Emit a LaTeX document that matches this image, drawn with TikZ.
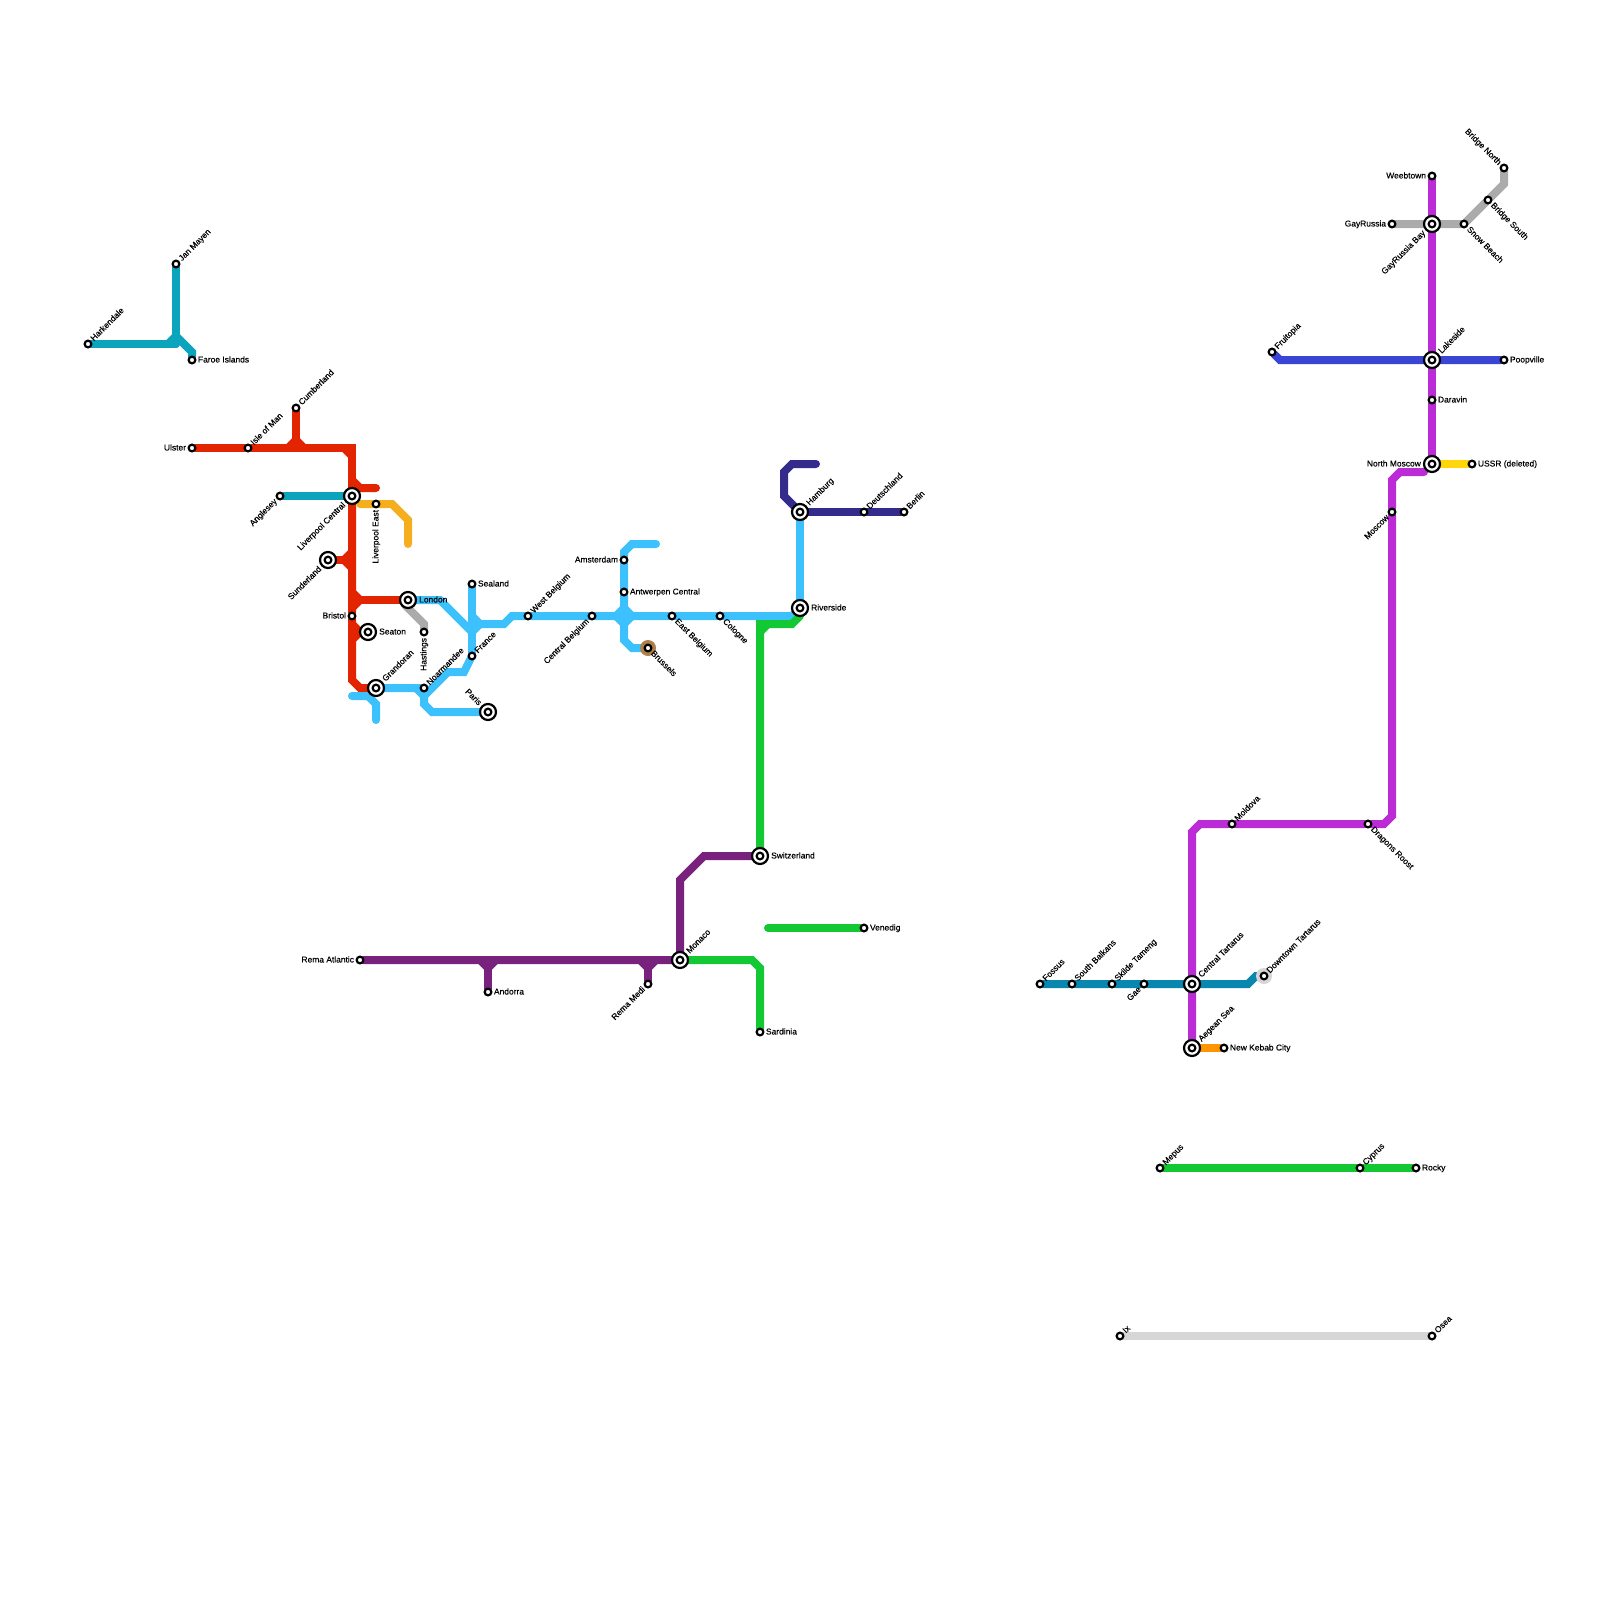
\documentclass[tikz,border=0pt]{standalone}
\usepackage{fontspec}
\newfontfamily\labfont{Liberation Sans}[FakeBold=0.3]
\usetikzlibrary{backgrounds}
\definecolor{cTeal}{HTML}{0CA3BD}
\definecolor{cRed}{HTML}{E32400}
\definecolor{cAmber}{HTML}{F5AE1E}
\definecolor{cSky}{HTML}{3DC1FD}
\definecolor{cGrey}{HTML}{ABABAB}
\definecolor{cNavy}{HTML}{342C8C}
\definecolor{cGreen}{HTML}{12C934}
\definecolor{cPlum}{HTML}{78217D}
\definecolor{cMagenta}{HTML}{BB2BD6}
\definecolor{cIndigo}{HTML}{3B45D4}
\definecolor{cSteel}{HTML}{0A87AF}
\definecolor{cOrange}{HTML}{FE9500}
\definecolor{cYellow}{HTML}{FFD60A}
\definecolor{cPale}{HTML}{D6D6D6}
\definecolor{cBrown}{HTML}{B0804A}
\tikzset{
  ln/.style={line width=0.4cm,line cap=round,line join=miter,miter limit=10,draw=#1},
  stub/.style={line width=0.4cm,line cap=butt,draw=#1},
  stationdot/.style={circle,draw=black,fill=white,line width=0.11cm,minimum size=0.335cm,inner sep=0pt,outer sep=0pt},
  hubring/.style={circle,draw=black,fill=white,line width=0.11cm,minimum size=0.8cm,inner sep=0pt,outer sep=0pt},
  halo/.style={circle,fill=#1,minimum size=0.8cm,inner sep=0pt,outer sep=0pt},
  lab/.style={inner sep=0pt,outer sep=0pt,text=black,font=\labfont\fontsize{12}{13}\selectfont,text height=0.72em,text depth=0.02em},
  lE/.style={anchor=west,xshift=#1},
  lW/.style={anchor=east,xshift=-#1},
  lNE/.style={rotate=45,anchor=west,xshift=#1},
  lSW/.style={rotate=45,anchor=east,xshift=-#1},
  lSE/.style={rotate=-45,anchor=west,xshift=#1},
  lNW/.style={rotate=-45,anchor=east,xshift=-#1},
  lS/.style={rotate=90,anchor=east,xshift=-#1}
}
\newcommand{\stn}[5]{\node[stationdot] (#1) at (#2,#3) {};\node[lab,#4=0.3cm] (#1L) at (#2,#3) {#5};}
\newcommand{\hub}[5]{\node[hubring] (#1) at (#2,#3) {};\node[stationdot] (#1I) at (#2,#3) {};\node[lab,#4=0.56cm] (#1L) at (#2,#3) {#5};}
\begin{document}
\begin{tikzpicture}[x=0.05cm,y=-0.05cm]
\useasboundingbox (0,0) rectangle (1600,1600);
\node[halo=cBrown] (brusselsHalo) at (648,648) {};
\node[halo=cPale] (downtownHalo) at (1264,976) {};
% stations
\stn{jan}{176}{264}{lNE}{Jan Mayen}
\stn{hark}{88}{344}{lNE}{Harkendale}
\stn{faroe}{192}{360}{lE}{Faroe Islands}
\stn{cumb}{296}{408}{lNE}{Cumberland}
\stn{ulster}{192}{448}{lW}{Ulster}
\stn{isle}{248}{448}{lNE}{Isle of Man}
\stn{angle}{280}{496}{lSW}{Anglesey}
\hub{livc}{352}{496}{lSW}{Liverpool Central}
\stn{live}{376}{504}{lS}{Liverpool East}
\hub{sund}{328}{560}{lSW}{Sunderland}
\hub{london}{408}{600}{lE}{London}
\stn{bristol}{352}{616}{lW}{Bristol}
\hub{seaton}{368}{632}{lE}{Seaton}
\hub{grand}{376}{688}{lNE}{Grandoran}
\stn{hast}{424}{632}{lS}{Hastings}
\stn{noar}{424}{688}{lNE}{Noarmandee}
\stn{france}{472}{656}{lNE}{France}
\stn{sealand}{472}{584}{lE}{Sealand}
\hub{paris}{488}{712}{lNW}{Paris}
\stn{westb}{528}{616}{lNE}{West Belgium}
\stn{centb}{592}{616}{lSW}{Central Belgium}
\stn{amst}{624}{560}{lW}{Amsterdam}
\stn{antw}{624}{592}{lE}{Antwerpen Central}
\stn{eastb}{672}{616}{lSE}{East Belgium}
\stn{cologne}{720}{616}{lSE}{Cologne}
\stn{brussels}{648}{648}{lSE}{Brussels}
\hub{river}{800}{608}{lE}{Riverside}
\hub{hamb}{800}{512}{lNE}{Hamburg}
\stn{deut}{864}{512}{lNE}{Deutschland}
\stn{berlin}{904}{512}{lNE}{Berlin}
\hub{switz}{760}{856}{lE}{Switzerland}
\stn{venedig}{864}{928}{lE}{Venedig}
\stn{rema}{360}{960}{lW}{Rema Atlantic}
\stn{andorra}{488}{992}{lE}{Andorra}
\stn{medi}{648}{984}{lSW}{Rema Medi}
\hub{monaco}{680}{960}{lNE}{Monaco}
\stn{sard}{760}{1032}{lE}{Sardinia}
\stn{weeb}{1432}{176}{lW}{Weebtown}
\hub{gayb}{1432}{224}{lSW}{GayRussia Bay}
\stn{gay}{1392}{224}{lW}{GayRussia}
\stn{snow}{1464}{224}{lSE}{Snow Beach}
\stn{brs}{1488}{200}{lSE}{Bridge South}
\stn{brn}{1504}{168}{lNW}{Bridge North}
\hub{lake}{1432}{360}{lNE}{Lakeside}
\stn{poop}{1504}{360}{lE}{Poopville}
\stn{fruit}{1272}{352}{lNE}{Fruitopia}
\stn{dara}{1432}{400}{lE}{Daravin}
\hub{nmos}{1432}{464}{lW}{North Moscow}
\stn{ussr}{1472}{464}{lE}{USSR (deleted)}
\stn{moscow}{1392}{512}{lSW}{Moscow}
\stn{moldova}{1232}{824}{lNE}{Moldova}
\stn{dragons}{1368}{824}{lSE}{Dragons Roost}
\stn{fossus}{1040}{984}{lNE}{Fossus}
\stn{balk}{1072}{984}{lNE}{South Balkans}
\stn{skilde}{1112}{984}{lNE}{Skilde Tameng}
\stn{gae}{1144}{984}{lSW}{Gae}
\hub{ctart}{1192}{984}{lNE}{Central Tartarus}
\stn{dtart}{1264}{976}{lNE}{Downtown Tartarus}
\hub{aegean}{1192}{1048}{lNE}{Aegean Sea}
\stn{kebab}{1224}{1048}{lE}{New Kebab City}
\stn{mepus}{1160}{1168}{lNE}{Mepus}
\stn{cyprus}{1360}{1168}{lNE}{Cyprus}
\stn{rocky}{1416}{1168}{lE}{Rocky}
\stn{ix}{1120}{1336}{lNE}{Ix}
\stn{osea}{1432}{1336}{lNE}{Osea}
% connectors
\begin{scope}[on background layer]
\fill[white] (0,0) rectangle (1600,1600);
% teal
\coordinate (farEndT) at (176,336);
\draw[ln=cTeal] (jan) -- (176,344);
\draw[ln=cTeal] (hark) -- (176,344);
\draw[stub=cTeal] (168,344) -- (farEndT);
\draw[ln=cTeal] (farEndT) -- (192,352) -- (faroe);
\draw[ln=cTeal] (angle) -- (livc);
% red
\draw[ln=cRed] (ulster) -- (isle) -- (352,448) -- (livc);
\draw[ln=cRed] (cumb) -- (296,440);
\draw[stub=cRed] (288,448) -- (296,440) -- (304,448);
\draw[stub=cRed] (344,448) -- (352,456);
\coordinate (redEnd) at (376,488);
\draw[ln=cRed] (352,480) -- (360,488) -- (redEnd);
\draw[ln=cRed] (livc) -- (bristol) -- (352,680) -- (360,688) -- (grand);
\draw[ln=cRed] (sund) -- (344,560);
\draw[stub=cRed] (352,552) -- (344,560) -- (352,568);
\draw[stub=cRed] (352,592) -- (360,600) -- (352,608);
\draw[ln=cRed] (360,600) -- (london);
\draw[stub=cRed] (352,624) -- (360,632) -- (352,640);
\draw[ln=cRed] (360,632) -- (seaton);
% amber
\coordinate (amberEnd) at (408,544);
\draw[ln=cAmber] (360,504) -- (live) -- (392,504) -- (408,520) -- (amberEnd);
% grey
\coordinate (greyStart) at (405,605);
\draw[ln=cGrey] (greyStart) -- (424,624) -- (hast);
\draw[ln=cGrey] (gay) -- (gayb) -- (snow) -- (brs) -- (1504,184) -- (brn);
% sky
\draw[ln=cSky] (london) -- (440,600) -- (472,632);
\draw[ln=cSky] (sealand) -- (france);
\draw[ln=cSky] (472,616) -- (480,624) -- (472,632);
\draw[ln=cSky] (480,624) -- (504,624) -- (512,616) -- (westb) -- (centb) -- (eastb) -- (cologne) -- (792,616) -- (river);
\draw[ln=cSky] (river) -- (hamb);
\draw[ln=cSky] (grand) -- (noar) -- (424,704) -- (432,712) -- (paris);
\draw[stub=cSky] (416,688) -- (424,696);
\draw[ln=cSky] (424,696) -- (448,672) -- (464,672) -- (france);
\coordinate (skyA) at (352,696);
\coordinate (skyB) at (376,720);
\draw[ln=cSky] (skyA) -- (368,696) -- (376,704) -- (skyB);
\coordinate (skyC) at (656,544);
\draw[ln=cSky] (skyC) -- (632,544) -- (624,552) -- (amst) -- (antw) -- (624,640) -- (632,648) -- (brussels);
\draw[stub=cSky] (616,616) -- (624,608);
\draw[stub=cSky] (624,608) -- (632,616);
\draw[stub=cSky] (632,616) -- (624,624);
\draw[stub=cSky] (624,624) -- (616,616);
% navy
\coordinate (navyEnd) at (816,464);
\draw[ln=cNavy] (hamb) -- (deut) -- (berlin);
\draw[ln=cNavy] (hamb) -- (784,496) -- (784,472) -- (792,464) -- (navyEnd);
% green
\draw[ln=cGreen] (800,616) -- (792,624) -- (760,624) -- (switz);
\draw[stub=cGreen] (760,632) -- (768,624);
\coordinate (greenEnd) at (768,928);
\draw[ln=cGreen] (greenEnd) -- (venedig);
\draw[ln=cGreen] (monaco) -- (752,960) -- (760,968) -- (sard);
\draw[ln=cGreen] (mepus) -- (cyprus) -- (rocky);
% plum
\draw[ln=cPlum] (rema) -- (monaco) -- (680,880) -- (704,856) -- (switz);
\draw[stub=cPlum] (480,960) -- (488,968) -- (496,960);
\draw[ln=cPlum] (488,968) -- (andorra);
\draw[stub=cPlum] (640,960) -- (648,968) -- (656,960);
\draw[ln=cPlum] (648,968) -- (medi);
% indigo
\draw[ln=cIndigo] (fruit) -- (1280,360) -- (lake) -- (poop);
% magenta
\coordinate (magEnd) at (1424,472);
\draw[ln=cMagenta] (weeb) -- (gayb) -- (lake) -- (dara) -- (nmos);
\draw[ln=cMagenta] (magEnd) -- (1400,472) -- (1392,480) -- (moscow) -- (1392,816) -- (1384,824) -- (dragons) -- (moldova) -- (1200,824) -- (1192,832) -- (ctart) -- (aegean);
% steel
\draw[ln=cSteel] (fossus) -- (balk) -- (skilde) -- (gae) -- (ctart) -- (1248,984) -- (1256,976) -- (dtart);
% short ones
\draw[ln=cOrange] (aegean) -- (kebab);
\draw[ln=cYellow] (nmos) -- (ussr);
\draw[ln=cPale] (ix) -- (osea);
\end{scope}
\end{tikzpicture}
\end{document}
